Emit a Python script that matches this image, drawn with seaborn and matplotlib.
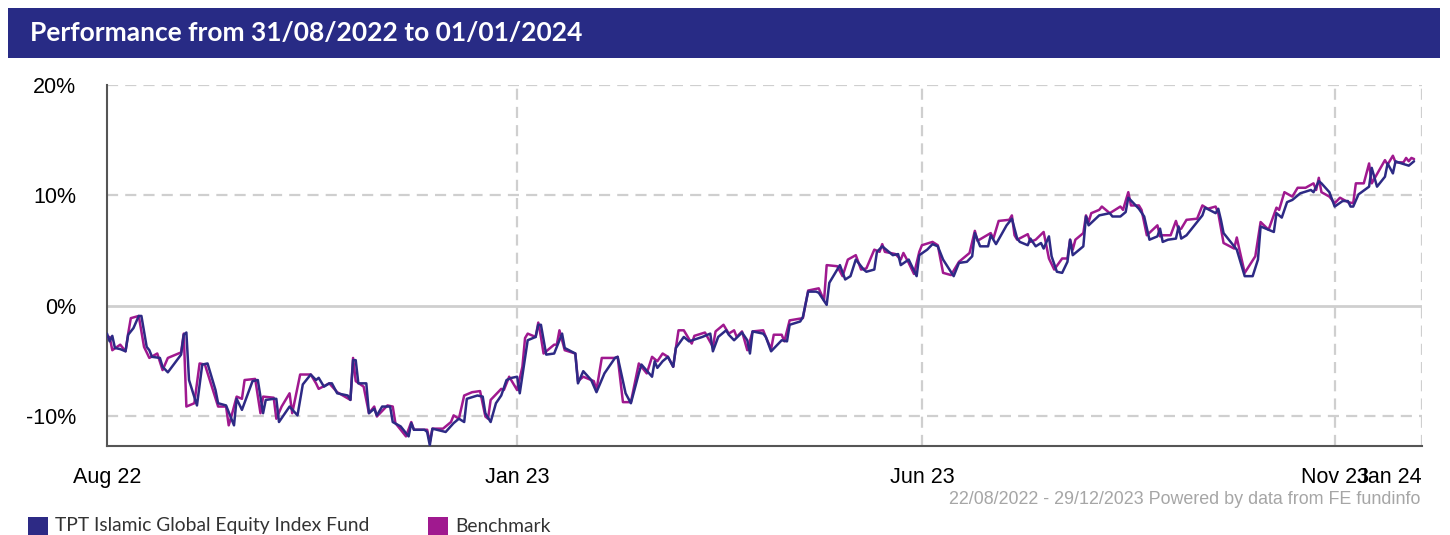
import numpy as np
import pandas as pd
import matplotlib
matplotlib.use("Agg")
import matplotlib.pyplot as plt
import seaborn as sns
from matplotlib.patches import Rectangle

# ---------------- data (days since 22/08/2022, cumulative performance %) ----------------
start_date = "2022-08-22"
fund_name = "TPT Islamic Global Equity Index Fund"
bench_name = "Benchmark"

fund_day = [0, 1, 2, 3, 5, 7, 8, 10, 12, 13, 15, 16, 17, 20, 21, 23, 28, 29, 30, 31,
            34, 36, 38, 41, 42, 45, 48, 49, 51, 55, 57, 59, 60, 63, 64, 65, 69, 72, 74, 77,
            79, 80, 82, 84, 85, 87, 91, 92, 93, 94, 95, 98, 99, 101, 102, 104, 107, 108, 111, 114,
            115, 116, 120, 121, 122, 123, 128, 131, 133, 135, 136, 140, 142, 143, 145, 147, 149, 151, 153, 155,
            156, 159, 162, 163, 164, 166, 169, 170, 172, 173, 177, 178, 180, 183, 185, 188, 192, 193, 196, 198,
            201, 202, 206, 207, 208, 210, 212, 214, 215, 218, 220, 225, 228, 229, 231, 234, 235, 237, 240, 242,
            243, 244, 248, 249, 251, 255, 257, 258, 262, 263, 265, 268, 269, 272, 273, 276, 277, 279, 281, 283,
            286, 287, 290, 291, 293, 297, 299, 300, 303, 306, 307, 310, 312, 314, 316, 320, 322, 325, 327, 328,
            330, 333, 334, 336, 340, 342, 344, 345, 348, 349, 351, 353, 354, 356, 357, 359, 361, 363, 364, 365,
            369, 370, 371, 375, 379, 380, 383, 385, 386, 390, 392, 394, 397, 398, 399, 401, 404, 405, 406, 408,
            412, 414, 415, 419, 420, 421, 422, 427, 430, 433, 435, 436, 441, 442, 444, 446, 448, 451, 455, 456,
            458, 459, 462, 464, 467, 469, 470, 471, 473, 477, 478, 480, 483, 484, 486, 487, 488, 492, 494]
fund_pct = [-2.5, -3.2, -2.7, -3.8, -3.9, -4.1, -2.6, -2.0, -0.9, -0.9, -3.7, -4.0, -4.6, -4.7, -5.5, -6.0, -4.4, -2.6, -2.4, -6.7,
            -9.0, -5.3, -5.2, -7.6, -8.8, -9.0, -10.8, -8.4, -9.4, -6.8, -6.7, -9.7, -8.5, -8.4, -8.4, -10.5, -9.1, -9.9, -7.1, -6.2,
            -6.7, -6.5, -7.3, -7.0, -7.0, -7.9, -8.1, -8.5, -4.9, -4.9, -7.0, -7.0, -9.7, -9.3, -9.9, -9.1, -9.1, -10.5, -10.9, -11.8,
            -10.6, -11.2, -11.2, -11.4, -12.6, -11.1, -11.4, -10.6, -10.2, -10.5, -8.4, -8.1, -8.2, -9.7, -10.5, -8.8, -8.1, -6.7, -6.5, -6.4,
            -7.9, -3.1, -2.8, -1.7, -1.7, -4.4, -4.3, -3.7, -2.5, -3.8, -4.3, -7.0, -5.9, -6.7, -7.8, -6.1, -4.7, -4.6, -7.9, -8.8,
            -6.1, -5.3, -6.4, -5.0, -5.6, -5.0, -4.6, -5.5, -3.8, -2.8, -3.2, -2.8, -2.5, -4.1, -2.8, -2.2, -2.6, -3.1, -2.4, -3.1,
            -4.3, -2.3, -2.5, -2.8, -4.1, -3.1, -3.2, -1.7, -1.4, -1.0, 1.3, 1.3, 1.2, 0.1, 2.1, 3.3, 3.7, 2.4, 2.7, 4.2,
            3.3, 3.1, 3.3, 4.9, 5.4, 4.6, 4.7, 3.7, 4.2, 2.7, 4.6, 5.1, 5.6, 5.4, 4.2, 2.7, 3.9, 4.0, 4.5, 6.6,
            5.4, 5.4, 6.4, 5.6, 7.3, 7.9, 6.1, 5.8, 5.5, 6.1, 5.4, 5.7, 5.2, 6.3, 4.5, 3.1, 3.0, 4.0, 6.0, 4.6,
            5.4, 8.1, 7.3, 8.2, 8.4, 8.1, 8.1, 8.5, 9.8, 8.8, 8.1, 6.0, 6.3, 7.0, 5.8, 6.0, 6.1, 7.2, 6.1, 6.4,
            7.6, 8.2, 8.9, 8.4, 8.8, 7.8, 6.6, 5.1, 2.7, 2.7, 4.2, 7.2, 6.7, 8.4, 8.0, 9.4, 9.6, 10.2, 10.5, 10.3,
            11.3, 11.1, 10.3, 9.0, 9.5, 9.5, 9.0, 9.0, 10.1, 10.8, 12.5, 10.8, 11.7, 12.9, 12.0, 13.1, 13.0, 12.7, 13.1]

bench_day = [0, 1, 2, 5, 7, 8, 9, 12, 14, 16, 19, 21, 23, 28, 29, 30, 33, 35, 37, 42,
             45, 46, 47, 49, 51, 52, 56, 58, 59, 63, 64, 66, 69, 70, 73, 77, 79, 80, 84, 87,
             92, 93, 94, 97, 99, 101, 102, 106, 108, 109, 113, 115, 116, 121, 122, 123, 127, 130, 131, 133,
             135, 138, 141, 143, 144, 145, 149, 150, 152, 153, 155, 157, 158, 159, 162, 163, 164, 165, 169, 170,
             171, 173, 177, 178, 180, 184, 185, 187, 192, 193, 195, 198, 201, 204, 206, 208, 210, 212, 214, 215,
             216, 218, 221, 222, 226, 229, 230, 233, 235, 237, 238, 240, 242, 244, 248, 249, 251, 252, 255, 256,
             258, 263, 265, 269, 271, 272, 276, 278, 280, 283, 285, 287, 290, 292, 293, 294, 298, 300, 301, 303,
             305, 307, 308, 312, 314, 316, 319, 322, 326, 328, 329, 334, 335, 337, 341, 342, 343, 344, 348, 349,
             351, 354, 356, 358, 361, 363, 364, 365, 366, 369, 370, 371, 372, 375, 376, 379, 383, 384, 386, 387,
             390, 391, 393, 397, 398, 399, 402, 404, 405, 406, 408, 412, 414, 416, 419, 420, 422, 426, 427, 428,
             430, 434, 436, 439, 442, 443, 445, 448, 450, 453, 456, 457, 458, 459, 462, 464, 466, 469, 471, 472,
             475, 477, 478, 483, 484, 486, 487, 490, 491, 492, 493, 494]
bench_pct = [-2.9, -2.8, -4.0, -3.5, -4.1, -2.5, -1.1, -0.9, -3.7, -4.7, -4.3, -5.8, -4.7, -4.2, -2.5, -9.1, -8.8, -5.2, -5.3, -9.1,
             -9.1, -10.8, -10.0, -8.2, -8.4, -6.7, -6.6, -9.7, -8.2, -8.3, -10.2, -9.1, -7.9, -9.7, -6.2, -6.2, -7.0, -7.5, -7.0, -7.8,
             -8.5, -4.7, -6.8, -7.3, -9.7, -9.1, -10.0, -9.0, -9.1, -10.6, -11.8, -10.5, -11.2, -11.2, -12.3, -11.1, -11.1, -10.5, -9.9, -10.2,
             -8.1, -7.8, -7.7, -10.0, -10.2, -8.5, -7.5, -7.6, -6.4, -6.8, -7.6, -5.5, -2.9, -2.5, -2.8, -1.5, -2.8, -4.3, -3.5, -3.5,
             -2.2, -4.0, -4.3, -6.8, -6.4, -6.8, -7.6, -4.7, -4.7, -4.6, -8.7, -8.7, -5.2, -6.1, -4.6, -5.0, -4.3, -4.6, -5.5, -3.8,
             -2.2, -2.2, -3.4, -2.7, -2.4, -3.7, -2.3, -1.7, -2.5, -2.2, -2.8, -2.3, -4.0, -2.3, -2.2, -2.8, -3.9, -2.6, -2.6, -3.2,
             -1.3, -1.1, 1.4, 1.6, 0.5, 3.7, 3.6, 2.7, 4.2, 4.6, 3.3, 3.4, 5.1, 4.9, 5.6, 4.9, 4.7, 4.2, 4.8, 3.9,
             2.9, 4.9, 5.5, 5.8, 5.5, 3.0, 2.8, 4.0, 4.8, 6.8, 5.9, 6.6, 6.1, 7.7, 7.8, 8.2, 6.4, 6.0, 6.5, 5.8,
             6.0, 6.7, 4.3, 3.3, 4.3, 4.3, 6.0, 5.1, 6.0, 6.6, 8.2, 7.6, 8.4, 8.7, 9.0, 8.4, 9.0, 8.7, 10.3, 9.1,
             9.1, 8.7, 6.4, 7.3, 6.3, 6.4, 6.4, 7.7, 6.9, 7.0, 7.8, 7.9, 9.1, 8.8, 9.0, 8.4, 5.7, 5.2, 6.2, 5.1,
             3.0, 4.5, 7.6, 6.9, 8.9, 8.7, 10.3, 9.9, 10.7, 10.7, 11.1, 10.5, 11.6, 10.3, 9.9, 9.3, 9.8, 9.4, 9.3, 11.1,
             11.1, 12.9, 11.1, 13.2, 12.8, 13.6, 13.0, 13.0, 13.4, 13.1, 13.4, 13.3]

tick_day = [0, 155, 308, 464, 497]
tick_label = ["Aug 22", "Jan 23", "Jun 23", "Nov 23", "Jan 24"]
ytick_val = [20, 10, 0, -10]
ytick_label = ["20%", "10%", "0%", "-10%"]

title_text = "Performance from 31/08/2022 to 01/01/2024"
footer_text = "22/08/2022 - 29/12/2023 Powered by data from FE fundinfo"

# ---------------- styling ----------------
FUND_C = "#2d2a85"
BENCH_C = "#a0198f"
BANNER_C = "#282b85"
GRID_C = "#cfcfcf"
SPINE_C = "#555555"

sns.set_style("white")
plt.rcParams['font.family'] = ['Liberation Sans', 'DejaVu Sans']

W, H = 1450, 535
fig = plt.figure(figsize=(W / 100, H / 100), dpi=100)
fig.patch.set_facecolor("white")

ax_l, ax_r, ax_t, ax_b = 107, 1422, 85, 446
ax = fig.add_axes([ax_l / W, 1 - ax_b / H, (ax_r - ax_l) / W, (ax_b - ax_t) / H])

base = pd.Timestamp(start_date)
df = pd.concat([
    pd.DataFrame({"date": base + pd.to_timedelta(fund_day, unit="D"), "pct": fund_pct, "series": fund_name}),
    pd.DataFrame({"date": base + pd.to_timedelta(bench_day, unit="D"), "pct": bench_pct, "series": bench_name}),
], ignore_index=True)

# grid lines
dash = (0, (5, 3.2))
for y in [20, 10, -10]:
    ax.axhline(y, color=GRID_C, lw=1.6, ls=dash, zorder=0)
ax.axhline(0, color=GRID_C, lw=2.0, zorder=0)
tick_dates = [base + pd.Timedelta(days=d) for d in tick_day]
for t in tick_dates[1:]:
    ax.axvline(t, color=GRID_C, lw=1.6, ls=dash, zorder=0)

sns.lineplot(data=df, x="date", y="pct", hue="series",
             palette={fund_name: FUND_C, bench_name: BENCH_C},
             hue_order=[bench_name, fund_name],
             estimator=None, sort=False, linewidth=1.8, legend=False, ax=ax, zorder=3)

ax.set_xlim(tick_dates[0], tick_dates[-1])
ax.set_ylim(-12.67, 20)
ax.set_xticks(tick_dates)
ax.set_xticklabels(tick_label)
ax.set_yticks(ytick_val)
ax.set_yticklabels(ytick_label)
ax.set_xlabel("")
ax.set_ylabel("")
xl = ax.get_xticklabels()
xl[-1].set_horizontalalignment("right")

for s in ["top", "right"]:
    ax.spines[s].set_visible(False)
for s in ["left", "bottom"]:
    ax.spines[s].set_color(SPINE_C)
    ax.spines[s].set_linewidth(1.5)
ax.tick_params(axis="both", direction="out", length=5, width=1.3, color=SPINE_C,
               labelsize=15.5, labelcolor="black")
ax.tick_params(axis="y", pad=17)
ax.tick_params(axis="x", pad=10)

# banner / title
fig.patches.append(Rectangle((8 / W, 1 - 58 / H), (1440 - 8) / W, 50 / H,
                             transform=fig.transFigure, facecolor=BANNER_C, edgecolor="none", zorder=0))
fig.text(30 / W, 1 - 33 / H, title_text, color="white", fontsize=19, fontweight="bold",
         family=["Lato", "DejaVu Sans"], ha="left", va="center")

# footer
fig.text(1420 / W, 1 - 500 / H, footer_text, color="#a6a6a6", fontsize=12.9, ha="right", va="center")

# legend
fig.patches.append(Rectangle((28 / W, 1 - 537 / H), 20 / W, 20 / H, transform=fig.transFigure,
                             facecolor=FUND_C, edgecolor="none"))
fig.text(55 / W, 1 - 526 / H, fund_name, color="#333333", fontsize=13.9,
         family=["Lato", "DejaVu Sans"], ha="left", va="center")
fig.patches.append(Rectangle((428 / W, 1 - 537 / H), 20 / W, 20 / H, transform=fig.transFigure,
                             facecolor=BENCH_C, edgecolor="none"))
fig.text(455 / W, 1 - 526 / H, bench_name, color="#333333", fontsize=13.9,
         family=["Lato", "DejaVu Sans"], ha="left", va="center")

fig.savefig("out.png", dpi=100, facecolor="white")
